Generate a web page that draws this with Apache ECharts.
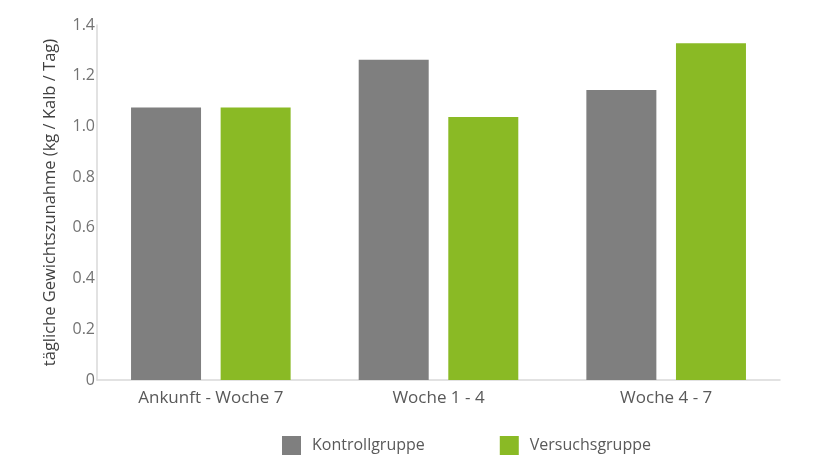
<!DOCTYPE html>
<html><head><meta charset="utf-8">
<script src="https://cdn.jsdelivr.net/npm/echarts@6/dist/echarts.min.js"></script>
<style>html,body{margin:0;padding:0;background:#fff}#c{width:828px;height:466px}</style>
</head><body><div id="c"></div>
<script>
const categories = ["Ankunft - Woche 7", "Woche 1 - 4", "Woche 4 - 7"];
const kontrollgruppe = [1.075, 1.263, 1.144];
const versuchsgruppe = [1.075, 1.037, 1.328];
const seriesNames = ["Kontrollgruppe", "Versuchsgruppe"];
const yAxisTitle = "tägliche Gewichtszunahme (kg / Kalb / Tag)";

const font = "'Open Sans', sans-serif";
const chart = echarts.init(document.getElementById('c'), null, {renderer: 'canvas'});
chart.setOption({
  animation: false,
  color: ['#7f7f7f', '#8aba25'],
  grid: {left: 97, right: 48, top: 25, bottom: 86},
  legend: {
    bottom: 6, left: 277,
    itemWidth: 19, itemHeight: 19, itemGap: 75,
    icon: 'rect',
    textStyle: {fontFamily: font, fontSize: 16, color: '#595959', padding: [0, 0, 0, 6]},
    data: seriesNames
  },
  xAxis: {
    type: 'category', data: categories,
    axisLine: {lineStyle: {color: '#d9d9d9', width: 1.5}},
    axisTick: {show: false},
    axisLabel: {fontFamily: font, fontSize: 17, color: '#595959', margin: 10}
  },
  yAxis: {
    type: 'value', min: 0, max: 1.4, interval: 0.2,
    name: yAxisTitle, nameLocation: 'middle', nameGap: 38,
    nameTextStyle: {fontFamily: font, fontSize: 16.5, color: '#404040'},
    axisLine: {show: true, lineStyle: {color: '#d9d9d9', width: 1.5}},
    axisTick: {show: false},
    splitLine: {show: false},
    axisLabel: {fontFamily: font, fontSize: 16, color: '#737373', margin: 2,
      formatter: v => v === 0 ? '0' : v.toFixed(1)}
  },
  series: [
    {name: seriesNames[0], type: 'bar', data: kontrollgruppe, barWidth: 70, barGap: '28%'},
    {name: seriesNames[1], type: 'bar', data: versuchsgruppe, barWidth: 70, barGap: '28%'}
  ]
});
</script></body></html>
